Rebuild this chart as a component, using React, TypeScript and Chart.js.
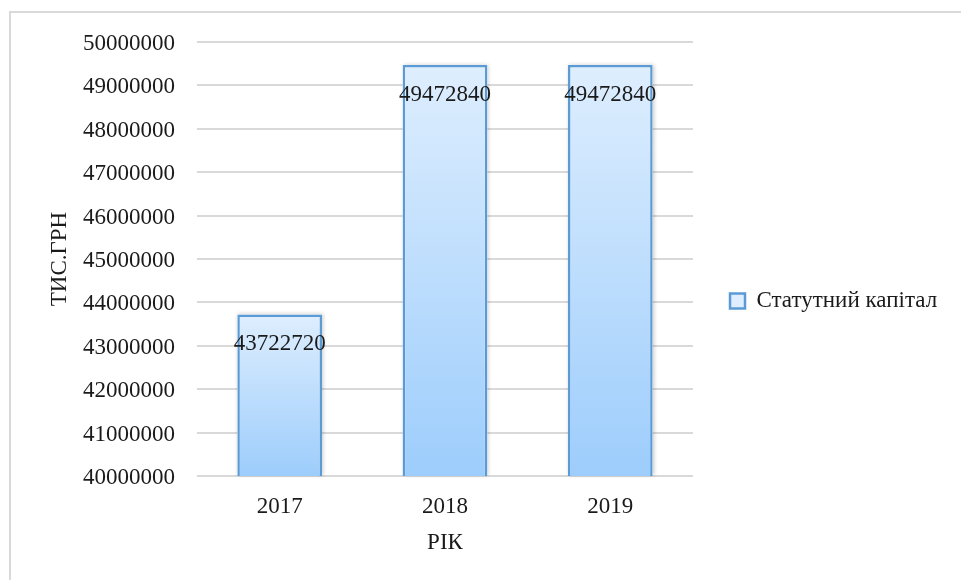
import React, { useEffect, useRef } from "react";
import { Chart, registerables } from "chart.js";

Chart.register(...registerables);

const categories = ["2017", "2018", "2019"];
const seriesName = "Статутний капітал";
const values = [43722720, 49472840, 49472840];
const yMin = 40000000;
const yMax = 50000000;
const yStep = 1000000;
const yTitle = "ТИС.ГРН";
const xTitle = "РІК";

const FONT = "'Liberation Serif', 'Times New Roman', serif";
const TEXT = "#1a1a1a";

const framePlugin = {
  id: "frame",
  beforeDraw(chart: any) {
    const c = chart.ctx;
    c.save();
    c.fillStyle = "#ffffff";
    c.fillRect(0, 0, chart.width, chart.height);
    c.fillStyle = "#d9d9d9";
    c.fillRect(9, 11, chart.width, 2);
    c.fillRect(9, 11, 2, chart.height);
    c.restore();
  },
};

const shadowPlugin = {
  id: "barShadow",
  beforeDatasetsDraw(chart: any) {
    const c = chart.ctx;
    const meta = chart.getDatasetMeta(0);
    const bottom = chart.chartArea.bottom;
    c.save();
    c.fillStyle = "#ffffff";
    c.shadowColor = "rgba(0,0,0,0.22)";
    c.shadowBlur = 4;
    c.shadowOffsetX = 1;
    c.shadowOffsetY = 0;
    meta.data.forEach((el: any) => {
      const { x, y, width } = el.getProps(["x", "y", "width"], true);
      c.fillRect(x - width / 2, y, width, bottom - y - 1);
    });
    c.restore();
  },
};

const valueLabelPlugin = {
  id: "valueLabels",
  afterDatasetsDraw(chart: any) {
    const c = chart.ctx;
    const meta = chart.getDatasetMeta(0);
    const data = chart.data.datasets[0].data as number[];
    c.save();
    c.font = `23px ${FONT}`;
    c.fillStyle = TEXT;
    c.textAlign = "center";
    c.textBaseline = "middle";
    meta.data.forEach((el: any, i: number) => {
      const { x, y } = el.getProps(["x", "y"], true);
      c.fillText(String(data[i]), x, y + 30);
    });
    c.restore();
  },
};

const barFill = (ctx: any) => {
  const chart = ctx.chart;
  const area = chart.chartArea;
  if (!area || ctx.type !== "data") return "#bcdbfb";
  const ys = chart.scales.y;
  const top = ys.getPixelForValue(ctx.raw);
  const bottom = ys.getPixelForValue(ys.min);
  const g = chart.ctx.createLinearGradient(0, top, 0, bottom);
  g.addColorStop(0, "#deeefe");
  g.addColorStop(1, "#9dcdfc");
  return g;
};

export default function App() {
  const ref = useRef<HTMLCanvasElement | null>(null);

  useEffect(() => {
    if (!ref.current) return;
    const chart = new Chart(ref.current, {
      type: "bar",
      data: {
        labels: categories,
        datasets: [
          {
            label: seriesName,
            data: values,
            backgroundColor: barFill,
            borderColor: "#5b9bd5",
            borderWidth: 2.5,
            barPercentage: 0.512,
            categoryPercentage: 1,
          },
        ],
      },
      options: {
        responsive: false,
        animation: false,
        devicePixelRatio: 1,
        layout: { padding: { top: 22, left: 10, right: 18, bottom: 0 } },
        plugins: {
          tooltip: { enabled: false },
          title: {
            display: true,
            text: " ",
            fullSize: false,
            padding: 0,
            font: { size: 20, lineHeight: 1, family: FONT },
          },
          legend: {
            position: "right",
            maxWidth: 250,
            labels: {
              boxWidth: 15,
              boxHeight: 15,
              padding: 37,
              color: TEXT,
              font: { size: 23, family: FONT },
            },
          },
        },
        scales: {
          x: {
            grid: { display: false },
            border: { display: false },
            ticks: {
              color: TEXT,
              padding: 9,
              font: { size: 23, family: FONT },
            },
            title: {
              display: true,
              text: xTitle,
              color: TEXT,
              padding: { top: 0, bottom: 23 },
              font: { size: 23, family: FONT },
            },
            afterFit: (scale: any) => {
              scale.height = 104;
            },
          },
          y: {
            min: yMin,
            max: yMax,
            grid: { color: "#d9d9d9", lineWidth: 2, drawTicks: false },
            border: { display: false },
            ticks: {
              stepSize: yStep,
              color: TEXT,
              padding: 22,
              labelOffset: 2,
              font: { size: 23, family: FONT },
              callback: (v: any) => String(v),
            },
            title: {
              display: true,
              text: yTitle,
              color: TEXT,
              padding: { top: 36, bottom: 0 },
              font: { size: 23, family: FONT },
            },
            afterFit: (scale: any) => {
              scale.width = 187;
            },
          },
        },
      },
      plugins: [framePlugin, shadowPlugin, valueLabelPlugin],
    });
    return () => chart.destroy();
  }, []);

  return (
    <div style={{ position: "absolute", left: 0, top: 0, width: 961, height: 580 }}>
      <canvas ref={ref} width={961} height={580} style={{ display: "block" }} />
    </div>
  );
}
